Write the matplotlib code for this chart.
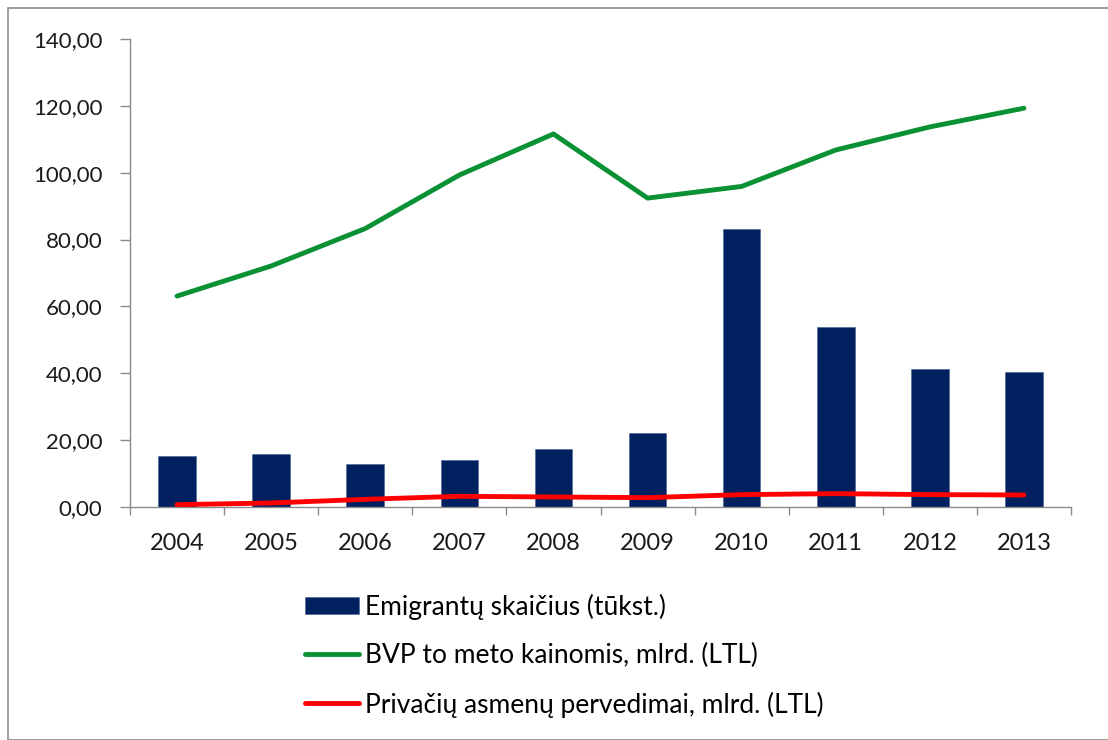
import matplotlib
matplotlib.use("Agg")
import matplotlib.pyplot as plt
from matplotlib.patches import Rectangle
from matplotlib.ticker import FuncFormatter, FixedLocator
import numpy as np

years = ["2004", "2005", "2006", "2007", "2008", "2009", "2010", "2011", "2012", "2013"]
emigrants = [15.3, 15.8, 12.9, 14.1, 17.3, 22.2, 83.3, 53.8, 41.2, 40.4]
gdp = [63.1, 72.1, 83.3, 99.3, 111.6, 92.4, 95.9, 106.8, 113.7, 119.3]
remittances = [0.7, 1.2, 2.3, 3.2, 3.0, 2.8, 3.7, 4.0, 3.7, 3.6]
labels = ["Emigrantų skaičius (tūkst.)",
          "BVP to meto kainomis, mlrd. (LTL)",
          "Privačių asmenų pervedimai, mlrd. (LTL)"]

plt.rcParams['font.family'] = ['Lato', 'DejaVu Sans']

fig = plt.figure(figsize=(11.08, 7.4), dpi=100)
fig.patches.append(Rectangle((8/1108, 0), 1.2, 1 - 8/740, transform=fig.transFigure,
                             fill=False, edgecolor='#8c8c8c', linewidth=1.2))
ax = fig.add_axes([130/1108, 1 - 507/740, (1071 - 130)/1108, (507 - 39)/740])

x = np.arange(len(years))
bars = ax.bar(x, emigrants, width=0.4, color='#002060', edgecolor='#4a5f8f', linewidth=0.4,
              label=labels[0], zorder=2)
l1, = ax.plot(x, gdp, color='#0a9133', linewidth=3.5, label=labels[1], zorder=3,
              solid_capstyle='round')
l2, = ax.plot(x, remittances, color='#ff0000', linewidth=3.5, label=labels[2], zorder=3,
              solid_capstyle='round')

ax.set_xlim(-0.5, len(years) - 0.5)
ax.set_ylim(0, 140)
ax.set_yticks(np.arange(0, 141, 20))
ax.yaxis.set_major_formatter(FuncFormatter(lambda v, p: f"{v:.2f}".replace('.', ',')))
ax.set_xticks(x)
ax.set_xticklabels(years)
ax.xaxis.set_minor_locator(FixedLocator(np.arange(-0.5, len(years), 1.0)))
ax.tick_params(axis='x', which='major', length=0, pad=19, labelsize=17, labelcolor='#1a1a1a')
ax.tick_params(axis='x', which='minor', length=6, color='#8c8c8c', width=1)
ax.tick_params(axis='y', length=7, color='#8c8c8c', width=1, pad=13, labelsize=16,
               labelcolor='#1a1a1a')

for s in ['top', 'right']:
    ax.spines[s].set_visible(False)
for s in ['left', 'bottom']:
    ax.spines[s].set_color('#8c8c8c')
    ax.spines[s].set_linewidth(1)

fig.legend(handles=[bars, l1, l2], labels=labels, loc='upper left',
           bbox_to_anchor=(281/1108, 1 - 570/740), frameon=False, fontsize=19,
           handlelength=2.05, handleheight=0.65, labelspacing=0.88, handletextpad=0.25)

fig.savefig("out.png", dpi=100)
